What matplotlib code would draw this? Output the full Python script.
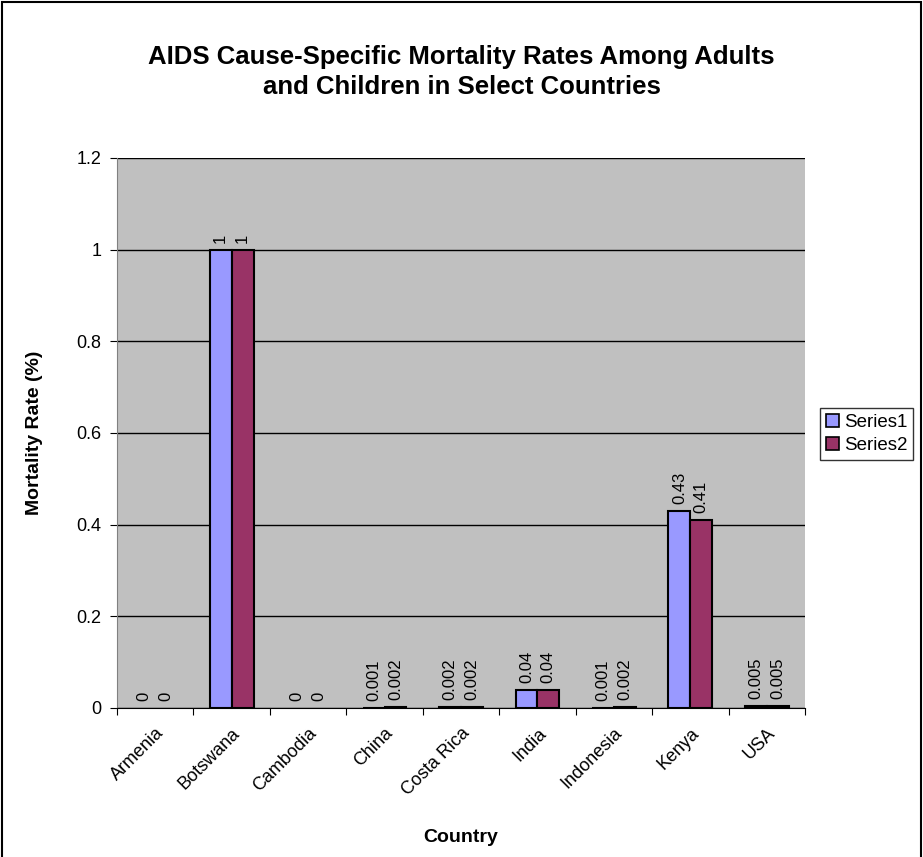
import numpy as np
import matplotlib
matplotlib.use('Agg')
import matplotlib.pyplot as plt
from matplotlib.patches import Rectangle

plt.rcParams['font.family'] = ['Liberation Sans', 'DejaVu Sans']

countries = ['Armenia', 'Botswana', 'Cambodia', 'China', 'Costa Rica',
             'India', 'Indonesia', 'Kenya', 'USA']
series1 = [0, 1, 0, 0.001, 0.002, 0.04, 0.001, 0.43, 0.005]
series2 = [0, 1, 0, 0.002, 0.002, 0.04, 0.002, 0.41, 0.005]
labels1 = ['0', '1', '0', '0.001', '0.002', '0.04', '0.001', '0.43', '0.005']
labels2 = ['0', '1', '0', '0.002', '0.002', '0.04', '0.002', '0.41', '0.005']

W, H = 923, 857
fig = plt.figure(figsize=(W / 100, H / 100), dpi=100)
ax = fig.add_axes([117 / W, 1 - 708 / H, (805 - 117) / W, (708 - 158) / H])
ax.set_facecolor('#C0C0C0')

x = np.arange(len(countries))
bw = 1 / 3.5
lw1 = [1.5 if v > 0 else 0 for v in series1]
lw2 = [1.5 if v > 0 else 0 for v in series2]
b1 = ax.bar(x - bw / 2, series1, bw, color='#9999FF', edgecolor='black', linewidth=lw1, label='Series1')
b2 = ax.bar(x + bw / 2, series2, bw, color='#993366', edgecolor='black', linewidth=lw2, label='Series2')
ax.bar_label(b1, labels=labels1, rotation=90, padding=5, fontsize=12)
ax.bar_label(b2, labels=labels2, rotation=90, padding=5, fontsize=12)

ax.set_xlim(-0.5, len(countries) - 0.5)
ax.set_ylim(0, 1.2)
ax.set_yticks(np.arange(0, 1.21, 0.2))
ax.set_yticklabels(['0', '0.2', '0.4', '0.6', '0.8', '1', '1.2'], fontsize=13)
ax.yaxis.grid(True, color='black', linewidth=1)
ax.set_axisbelow(True)

ax.set_xticks(np.arange(-0.5, len(countries), 1))
ax.set_xticklabels([])
ax.set_xticks(x, minor=True)
ax.set_xticklabels(countries, minor=True, rotation=45, ha='right', rotation_mode='anchor', fontsize=13)
ax.tick_params(axis='x', which='minor', length=0, pad=12)
ax.tick_params(axis='x', which='major', length=5, color='black')
ax.tick_params(axis='y', length=5, pad=6)

for s in ['top', 'right']:
    ax.spines[s].set_visible(False)
ax.spines['left'].set_color('#808080')
ax.spines['bottom'].set_color('black')

ax.set_xlabel('Country', fontsize=14, fontweight='bold', labelpad=22)
ax.set_ylabel('Mortality Rate (%)', fontsize=14, fontweight='bold', labelpad=24)

fig.text(0.5, 1 - 72 / H, 'AIDS Cause-Specific Mortality Rates Among Adults\nand Children in Select Countries',
         ha='center', va='center', fontsize=18.5, fontweight='bold', linespacing=1.3)

leg = ax.legend(loc='center left', bbox_to_anchor=(811 / W, 1 - 434 / H), bbox_transform=fig.transFigure,
                fontsize=13.5, frameon=True, fancybox=False, edgecolor='black', borderpad=0.3,
                handlelength=0.7, handleheight=0.7, handletextpad=0.25, labelspacing=0.3)
leg.get_frame().set_linewidth(1)
for h in leg.legend_handles:
    h.set_edgecolor('black')
    h.set_linewidth(1.2)

fig.patches.append(Rectangle((2 / W, -0.01), (W - 4) / W, 1 - 2 / H + 0.01, transform=fig.transFigure,
                             fill=False, edgecolor='black', linewidth=1.5))

fig.savefig('out.png', dpi=100)
